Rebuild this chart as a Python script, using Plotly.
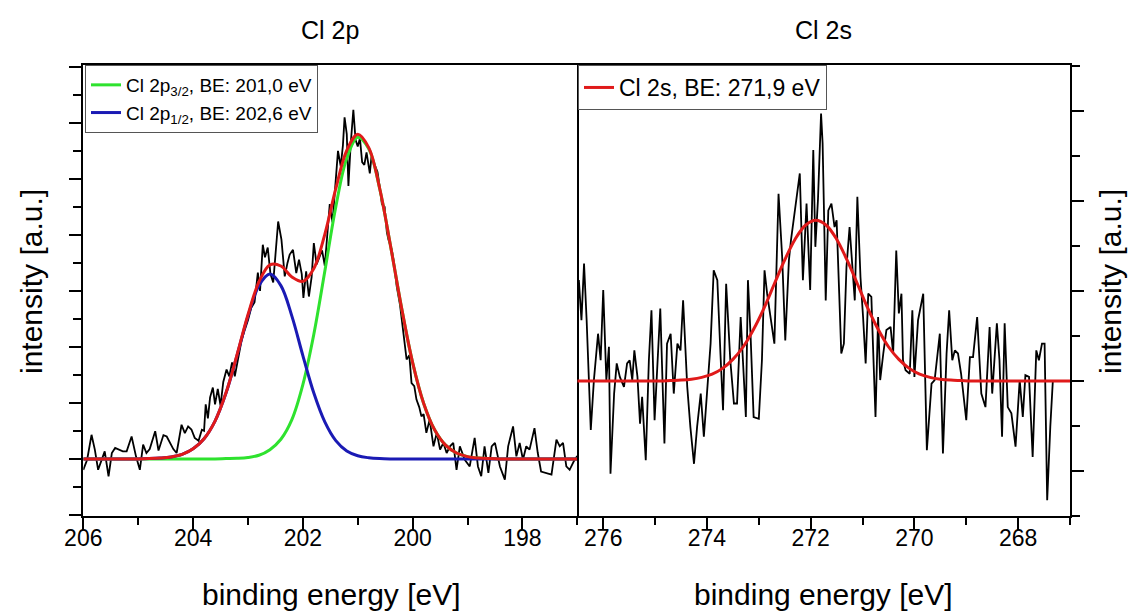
import plotly.graph_objects as go

# ---------------- Cl 2p (left panel) ----------------
cl2p_energy = [206.00, 205.93, 205.85, 205.79, 205.73, 205.67, 205.61, 205.54, 205.48, 205.42,
               205.36, 205.28, 205.21, 205.12, 205.04, 204.97, 204.91, 204.85, 204.79, 204.69,
               204.63, 204.54, 204.48, 204.41, 204.36, 204.30, 204.21, 204.15, 204.09, 204.03,
               203.97, 203.90, 203.84, 203.80, 203.77, 203.73, 203.69, 203.64, 203.60, 203.55,
               203.50, 203.45, 203.39, 203.34, 203.29, 203.24, 203.18, 203.12, 203.06, 203.00,
               202.94, 202.88, 202.82, 202.78, 202.73, 202.69, 202.64, 202.59, 202.54, 202.49,
               202.45, 202.39, 202.33, 202.28, 202.24, 202.18, 202.12, 202.07, 202.02, 201.99,
               201.94, 201.89, 201.84, 201.80, 201.75, 201.70, 201.65, 201.60, 201.55, 201.51,
               201.46, 201.41, 201.36, 201.31, 201.27, 201.24, 201.20, 201.17, 201.13, 201.08,
               201.04, 201.00, 200.96, 200.92, 200.88, 200.84, 200.78, 200.75, 200.69, 200.64,
               200.60, 200.56, 200.51, 200.47, 200.44, 200.38, 200.34, 200.29, 200.23, 200.17,
               200.11, 200.06, 200.02, 199.97, 199.93, 199.88, 199.84, 199.80, 199.75, 199.69,
               199.62, 199.56, 199.50, 199.44, 199.38, 199.32, 199.26, 199.20, 199.14, 199.05,
               198.96, 198.87, 198.81, 198.75, 198.69, 198.62, 198.56, 198.50, 198.41, 198.32,
               198.26, 198.17, 198.11, 198.05, 197.99, 197.93, 197.87, 197.78, 197.72, 197.66,
               197.56, 197.47, 197.38, 197.32, 197.26, 197.20, 197.14, 197.05, 197.00]
cl2p_counts = [-0.39, -0.03, 0.86, 0.33, -0.39, -0.03, 0.27, -0.62, 0.21, 0.39,
               0.33, 0.27, 0.27, 0.80, 0.09, -0.39, 0.51, 0.21, 0.35, 0.99,
               0.30, 0.85, 0.80, 0.55, 0.35, 0.21, 1.22, 0.92, 1.16, 1.05,
               0.75, 0.65, 1.04, 1.00, 1.95, 1.45, 2.20, 2.55, 1.95, 2.50,
               1.90, 2.75, 3.19, 2.95, 3.45, 2.95, 3.60, 4.20, 4.60, 4.95,
               5.40, 5.60, 6.65, 6.00, 7.65, 7.20, 7.55, 6.60, 6.30, 7.60,
               8.48, 7.83, 6.52, 7.00, 7.30, 7.47, 6.64, 7.12, 6.60, 5.75,
               6.70, 5.80, 6.50, 7.71, 6.95, 7.20, 7.45, 6.90, 8.20, 9.10,
               8.45, 9.80, 11.00, 10.45, 11.20, 12.20, 11.60, 9.75, 11.20, 12.47,
               11.40, 11.16, 11.45, 10.60, 10.50, 10.95, 10.20, 10.80, 10.50, 10.25,
               9.73, 9.10, 9.00, 8.10, 7.83, 7.47, 7.00, 6.16, 5.50, 4.50,
               3.55, 3.70, 2.71, 2.60, 2.12, 1.85, 1.52, 1.60, 0.93, 1.40,
               0.45, 0.93, 0.33, 0.57, 0.21, 0.45, 0.57, -0.39, 0.45, -0.03,
               -0.27, 0.75, -0.27, -0.62, 0.45, -0.50, 0.45, 0.57, -0.27, -0.74,
               0.45, 1.16, 0.09, 0.57, -0.03, 0.45, 0.33, 1.10, 0.21, -0.45,
               -0.51, -0.56, 0.69, 0.45, 0.57, -0.27, -0.39, -0.03, 0.10]

fit2p_energy = [206.0, 205.8, 205.6, 205.4, 205.2, 205.0, 204.8, 204.6, 204.4, 204.2,
                204.0, 203.8, 203.6, 203.4, 203.2, 203.0, 202.8, 202.6, 202.4, 202.2,
                202.0, 201.8, 201.6, 201.4, 201.2, 201.0, 200.8, 200.6, 200.4, 200.2,
                200.0, 199.8, 199.6, 199.4, 199.2, 199.0, 198.8, 198.6, 198.4, 198.2,
                198.0, 197.8, 197.6, 197.4, 197.2, 197.0]
fit_2p32 = [0, 0, 0, 0, 0, 0, 0, 0, 0, 0,
            0, 0, 0, 0.01, 0.02, 0.05, 0.13, 0.33, 0.70, 1.40,
            2.65, 4.45, 6.70, 9.00, 10.74, 11.49, 11.08, 9.65, 7.58, 5.38,
            3.44, 1.99, 1.04, 0.49, 0.21, 0.08, 0.03, 0.01, 0, 0,
            0, 0, 0, 0, 0, 0]
fit_2p12 = [0, 0, 0, 0, 0, 0, 0.01, 0.03, 0.07, 0.16,
            0.36, 0.72, 1.35, 2.35, 3.69, 5.10, 6.19, 6.60, 6.19, 5.10,
            3.69, 2.35, 1.32, 0.65, 0.28, 0.11, 0.04, 0.01, 0, 0,
            0, 0, 0, 0, 0, 0, 0, 0, 0, 0,
            0, 0, 0, 0, 0, 0]
fit_2p_env = [0, 0, 0, 0, 0, 0, 0.01, 0.03, 0.07, 0.16,
              0.36, 0.72, 1.35, 2.36, 3.71, 5.15, 6.32, 6.93, 6.89, 6.50,
              6.34, 6.80, 8.02, 9.65, 11.02, 11.60, 11.12, 9.66, 7.58, 5.38,
              3.44, 1.99, 1.04, 0.49, 0.21, 0.08, 0.03, 0.01, 0, 0,
              0, 0, 0, 0, 0, 0]

# ---------------- Cl 2s (right panel) ----------------
cl2s_energy = [276.50, 276.47, 276.42, 276.37, 276.32, 276.24, 276.18, 276.10, 276.05, 276.00,
               275.94, 275.89, 275.86, 275.79, 275.74, 275.68, 275.60, 275.54, 275.49, 275.44,
               275.40, 275.34, 275.29, 275.25, 275.18, 275.12, 275.07, 275.01, 274.90, 274.82,
               274.77, 274.70, 274.64, 274.57, 274.51, 274.46, 274.38, 274.32, 274.25, 274.19,
               274.12, 274.06, 274.00, 273.93, 273.87, 273.80, 273.74, 273.69, 273.63, 273.55,
               273.48, 273.42, 273.35, 273.29, 273.25, 273.21, 273.16, 273.10, 273.00, 272.94,
               272.89, 272.84, 272.78, 272.70, 272.62, 272.55, 272.49, 272.42, 272.38, 272.33,
               272.26, 272.21, 272.15, 272.08, 272.01, 271.95, 271.91, 271.86, 271.80, 271.77,
               271.74, 271.71, 271.66, 271.60, 271.54, 271.50, 271.45, 271.41, 271.36, 271.31,
               271.25, 271.18, 271.15, 271.10, 271.04, 270.99, 270.94, 270.89, 270.83, 270.80,
               270.75, 270.70, 270.66, 270.60, 270.54, 270.46, 270.41, 270.35, 270.30, 270.25,
               270.22, 270.17, 270.09, 270.04, 270.00, 269.93, 269.83, 269.76, 269.67, 269.61,
               269.51, 269.45, 269.38, 269.33, 269.27, 269.22, 269.16, 269.10, 269.00, 268.93,
               268.87, 268.79, 268.71, 268.63, 268.55, 268.50, 268.41, 268.36, 268.31, 268.26,
               268.20, 268.13, 268.05, 267.97, 267.91, 267.86, 267.79, 267.72, 267.65, 267.60,
               267.54, 267.49, 267.44, 267.38, 267.33]
cl2s_counts = [1.35, 2.24, 1.35, 2.61, 1.35, -1.09, 0.02, 1.05, 0.46, 2.02,
               0.02, 0.76, -2.06, -0.28, 0.39, 0.09, -0.13, 0.39, 0.46, 0.02,
               0.68, 0.09, -0.95, -0.35, -1.76, 0.46, 1.57, -0.87, 1.61, -1.39,
               0.83, 1.05, -0.28, 0.83, 0.68, 1.79, -0.13, -1.02, -1.84, -1.02,
               -0.28, -1.24, -0.28, 0.83, 2.46, 2.24, 0.61, -0.65, 2.16, 0.46,
               -0.50, -0.50, 1.42, 0.02, -0.80, 2.24, 1.05, -0.80, -0.84, 0.46,
               2.46, 1.94, 1.50, 0.83, 4.16, 2.76, 0.90, 2.68, 3.13, 3.57,
               4.24, 4.61, 2.24, 3.94, 2.02, 5.13, 2.98, 4.02, 5.94, 5.28,
               3.57, 1.79, 3.79, 3.94, 3.42, 3.57, 1.94, 0.61, 0.83, 2.53,
               3.42, 2.31, 1.79, 4.09, 2.31, 1.42, 0.39, 1.94, 1.87, 0.83,
               -0.80, 1.42, 0.02, 0.61, 1.13, 1.20, 0.61, 2.90, 1.50, 1.94,
               0.46, 0.24, 0.16, 1.57, 0.09, 1.35, 1.94, -1.54, -0.06, 0.02,
               1.05, -1.61, 0.61, 1.57, 0.46, 0.68, 0.61, 0.16, -0.87, 0.53,
               0.53, 1.42, -0.28, -0.58, 1.20, -0.28, 1.28, 0.46, -1.24, 1.28,
               -0.58, -0.72, -1.46, 0.02, -0.80, 0.13, 0.09, -1.69, 0.68, 0.46,
               0.83, 0.83, -2.65, -1.02, 0.02]

fit2s_energy = [276.5, 276.3, 276.1, 275.9, 275.7, 275.5, 275.3, 275.1, 274.9, 274.7,
                274.5, 274.3, 274.1, 273.9, 273.7, 273.5, 273.3, 273.1, 272.9, 272.7,
                272.5, 272.3, 272.1, 271.9, 271.7, 271.5, 271.3, 271.1, 270.9, 270.7,
                270.5, 270.3, 270.1, 269.9, 269.7, 269.5, 269.3, 269.1, 268.9, 268.7,
                268.5, 268.3, 268.1, 267.9, 267.7, 267.5, 267.3, 267.1, 266.9]
fit_2s = [0, 0, 0, 0, 0, 0, 0, 0, 0, 0.01,
          0.02, 0.04, 0.08, 0.15, 0.28, 0.48, 0.76, 1.15, 1.62, 2.16,
          2.69, 3.15, 3.46, 3.57, 3.46, 3.15, 2.69, 2.16, 1.62, 1.15,
          0.76, 0.48, 0.28, 0.15, 0.08, 0.04, 0.02, 0.01, 0, 0,
          0, 0, 0, 0, 0, 0, 0, 0, 0]

legend_2p32 = "Cl 2p<sub>3/2</sub>, BE: 201,0 eV"
legend_2p12 = "Cl 2p<sub>1/2</sub>, BE: 202,6 eV"
legend_2s = "Cl 2s, BE: 271,9 eV"

GREEN = "#2ee22e"
BLUE = "#1a1ab4"
RED = "#e01a1a"
FONT = "Liberation Sans, Arial, sans-serif"

fig = go.Figure()
fig.add_trace(go.Scatter(x=cl2p_energy, y=cl2p_counts, mode="lines",
                         line=dict(color="black", width=1.8), showlegend=False,
                         xaxis="x", yaxis="y"))
fig.add_trace(go.Scatter(x=fit2p_energy, y=fit_2p32, mode="lines", name=legend_2p32,
                         line=dict(color=GREEN, width=3, shape="spline"),
                         xaxis="x", yaxis="y", legend="legend"))
fig.add_trace(go.Scatter(x=fit2p_energy, y=fit_2p12, mode="lines", name=legend_2p12,
                         line=dict(color=BLUE, width=3, shape="spline"),
                         xaxis="x", yaxis="y", legend="legend"))
fig.add_trace(go.Scatter(x=fit2p_energy, y=fit_2p_env, mode="lines", showlegend=False,
                         line=dict(color=RED, width=3, shape="spline"),
                         xaxis="x", yaxis="y"))

fig.add_trace(go.Scatter(x=cl2s_energy, y=cl2s_counts, mode="lines",
                         line=dict(color="black", width=1.8), showlegend=False,
                         xaxis="x2", yaxis="y2"))
fig.add_trace(go.Scatter(x=fit2s_energy, y=fit_2s, mode="lines", name=legend_2s,
                         line=dict(color=RED, width=3, shape="spline"),
                         xaxis="x2", yaxis="y2", legend="legend2"))

W, H = 1130, 613
xl0, xl1, xr1 = 83.3 / W, 577.3 / W, 1070 / W
y0, y1 = (H - 516) / H, (H - 65) / H

tickfont = dict(family=FONT, size=23, color="black")
common_x = dict(showgrid=False, zeroline=False, showline=True, linecolor="black", linewidth=2,
                mirror=True, ticks="outside", ticklen=12, tickwidth=2, tickcolor="black",
                dtick=2, tick0=0, tickfont=tickfont, automargin=False, ticklabelstandoff=-12,
                minor=dict(dtick=1, ticks="outside", ticklen=7, tickwidth=2, tickcolor="black"))
common_y = dict(showgrid=False, zeroline=False, showline=True, linecolor="black", linewidth=2,
                ticks="outside", ticklen=12, tickwidth=2, tickcolor="black",
                dtick=2, tick0=0, showticklabels=False, automargin=False,
                minor=dict(dtick=1, ticks="outside", ticklen=8, tickwidth=2, tickcolor="black"))

fig.update_layout(
    width=W, height=H, margin=dict(l=0, r=0, t=0, b=0),
    paper_bgcolor="white", plot_bgcolor="white",
    font=dict(family=FONT, color="black"),
    xaxis=dict(domain=[xl0, xl1], range=[206, 197], anchor="y", **common_x),
    yaxis=dict(domain=[y0, y1], range=[-2.04, 14.07], anchor="x", side="left",
               mirror=True, **common_y),
    xaxis2=dict(domain=[xl1, xr1], range=[276.5, 267.0], anchor="y2", **common_x),
    yaxis2=dict(domain=[y0, y1], range=[-3.0, 7.02], anchor="x2", side="right",
                mirror=False, **common_y),
    legend=dict(x=85 / W, y=y1, xanchor="left", yanchor="top", bgcolor="white",
                bordercolor="#555555", borderwidth=1, font=dict(family=FONT, size=19),
                tracegroupgap=0, itemwidth=30),
    legend2=dict(x=578 / W, y=y1, xanchor="left", yanchor="top", bgcolor="white",
                 bordercolor="#555555", borderwidth=1, font=dict(family=FONT, size=23),
                 itemwidth=30),
    annotations=[
        dict(text="Cl 2p", x=330 / W, y=1 - 30 / H, xref="paper", yref="paper",
             showarrow=False, font=dict(size=25), xanchor="center", yanchor="middle"),
        dict(text="Cl 2s", x=823 / W, y=1 - 30 / H, xref="paper", yref="paper",
             showarrow=False, font=dict(size=25), xanchor="center", yanchor="middle"),
        dict(text="binding energy [eV]", x=331 / W, y=1 - 594 / H, xref="paper", yref="paper",
             showarrow=False, font=dict(size=30), xanchor="center", yanchor="middle"),
        dict(text="binding energy [eV]", x=823 / W, y=1 - 594 / H, xref="paper", yref="paper",
             showarrow=False, font=dict(size=30), xanchor="center", yanchor="middle"),
        dict(text="intensity [a.u.]", x=31 / W, y=1 - 282 / H, xref="paper", yref="paper",
             showarrow=False, font=dict(size=30), textangle=-90,
             xanchor="center", yanchor="middle"),
        dict(text="intensity [a.u.]", x=1110 / W, y=1 - 282 / H, xref="paper", yref="paper",
             showarrow=False, font=dict(size=30), textangle=-90,
             xanchor="center", yanchor="middle"),
    ],
)

fig.write_html("out.html", config={"displayModeBar": False})

# remove the default page margin so the figure sits at the window's top-left corner
with open("out.html", "r", encoding="utf-8") as f:
    html = f.read()
html = html.replace("<head>", "<head><style>html,body{margin:0;padding:0;overflow:hidden;}</style>", 1)
with open("out.html", "w", encoding="utf-8") as f:
    f.write(html)
